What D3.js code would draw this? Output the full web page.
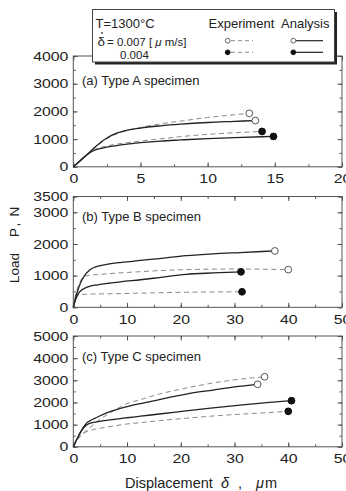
<!DOCTYPE html>
<html>
<head>
<meta charset="utf-8">
<script src="https://cdn.jsdelivr.net/npm/d3@7"></script>
<style>
body { margin: 0; background: #fff; }
svg text { font-family: "Liberation Sans", Arial, sans-serif; fill: #222; }
</style>
</head>
<body>
<svg id="chart" width="346" height="491"></svg>
<script>
// [displacement (um), load (N)]
// Type A specimen
var aExp007 = [[0,0],[0.5,200],[1,420],[1.5,640],[2,840],[2.5,1010],[3,1140],[4,1310],[5,1420],[6.5,1550],[8,1650],[10,1780],[12,1880],[13.1,1930]];
var aAna007 = [[0,0],[0.5,210],[1,430],[1.5,660],[2,870],[2.5,1040],[3,1170],[4,1320],[5,1400],[6.5,1480],[8,1540],[10,1600],[12,1640],[13.55,1670]];
var aExp004 = [[0,0],[0.5,220],[1,430],[1.5,590],[2,690],[3,800],[4,870],[5,930],[6.5,1010],[8,1090],[10,1170],[12,1230],[14.05,1275]];
var aAna004 = [[0,0],[0.5,220],[1,430],[1.5,580],[2,660],[2.5,710],[3,750],[4,820],[5,870],[6.5,930],[8,970],[10,1020],[12,1055],[14.9,1095]];
// Type B specimen
var bExp007 = [[0,0],[0.5,450],[1,700],[1.5,880],[2,980],[3,1010],[5,1040],[8,1080],[12,1120],[16,1160],[21,1190],[30,1210],[40,1190]];
var bAna007 = [[0,0],[0.5,350],[1,620],[1.5,830],[2,980],[3,1170],[4,1270],[6,1350],[9,1420],[12.5,1480],[16,1540],[21,1630],[26,1690],[31,1730],[37.5,1780]];
var bExp004 = [[0,0],[0.4,220],[0.8,360],[1.2,400],[2,410],[4,420],[8,430],[12,445],[16,460],[21,475],[26,485],[31.4,490]];
var bAna004 = [[0,0],[0.5,280],[1,450],[1.5,540],[2,590],[3,660],[4.5,710],[6.5,760],[9,810],[12.5,870],[16,940],[21,1040],[26,1085],[31.2,1120]];
// Type C specimen
var cExp007 = [[0,0],[0.5,230],[1,430],[1.5,560],[2,650],[3,850],[4,1050],[5,1250],[6.2,1430],[8,1700],[10,1950],[12.5,2130],[16,2380],[21,2650],[26,2880],[31,3050],[35.6,3160]];
var cAna007 = [[0,0],[0.5,260],[1,500],[1.5,720],[2,920],[2.5,1080],[3,1160],[4,1280],[5,1400],[6.2,1530],[8,1680],[10,1810],[12.5,1950],[16,2130],[21,2380],[26,2560],[30,2700],[34.3,2820]];
var cExp004 = [[0,0],[0.5,200],[1,380],[1.5,520],[2,620],[2.5,690],[3,730],[4,790],[6.2,890],[8,960],[10,1030],[12.5,1090],[16,1180],[21,1290],[26,1390],[31,1470],[36,1540],[40,1600]];
var cAna004 = [[0,0],[0.5,260],[1,500],[1.5,720],[2,880],[2.5,990],[3,1050],[4,1110],[5,1150],[6.2,1190],[8,1250],[10,1310],[12.5,1380],[16,1480],[21,1620],[26,1760],[31,1880],[36,1990],[40.6,2080]];

var xTicksA = [0, 5, 10, 15, 20];
var xTicksBC = [0, 10, 20, 30, 40, 50];
var yTicksA = [0, 1000, 2000, 3000, 4000];
var yTicksB = [0, 1000, 2000, 3000, 3500];
var yTicksC = [0, 1000, 2000, 3000, 4000, 5000];
var panelNames = ["(a) Type A specimen", "(b) Type B specimen", "(c) Type C specimen"];
var rateLabels = ["0.007", "0.004"];

(function () {
    "use strict";

    var svg = d3.select("#chart");
    var left = 73.3, right = 342, ph = 110.8;
    var sx = 1.22; // tick digits are wider than plain Arial in the picture

    var panels = [
        {name: panelNames[0], top: 56, labelY: 84.5, xMax: 20, yMax: 4000, xTicks: xTicksA, yTicks: yTicksA, xMinor: 2.5,
         curves: [[aExp007, true, false], [aAna007, false, false], [aExp004, true, true], [aAna004, false, true]]},
        {name: panelNames[1], top: 196.5, labelY: 220.5, xMax: 50, yMax: 3500, xTicks: xTicksBC, yTicks: yTicksB, xMinor: 5,
         curves: [[bExp007, true, false], [bAna007, false, false], [bExp004, true, true], [bAna004, false, true]]},
        {name: panelNames[2], top: 336, labelY: 361, xMax: 50, yMax: 5000, xTicks: xTicksBC, yTicks: yTicksC, xMinor: 5,
         curves: [[cExp007, true, false], [cAna007, false, false], [cExp004, true, true], [cAna004, false, true]]}
    ];

    function styleAxis(g) {
        g.select(".domain").remove();
        g.selectAll("line").attr("stroke", "#444").attr("stroke-width", 0.9);
    }

    function drawPanel(p) {
        var bottom = p.top + ph;
        var x = d3.scaleLinear().domain([0, p.xMax]).range([left, right]);
        var y = d3.scaleLinear().domain([0, p.yMax]).range([bottom, p.top]);
        var g = svg.append("g");

        var xMinor = d3.range(0, p.xMax + 0.01, p.xMinor);
        var yMinor = d3.range(0, p.yMax + 0.01, 500);

        // minor ticks on all four sides
        g.append("g").attr("transform", "translate(0," + bottom + ")")
            .call(d3.axisBottom(x).tickValues(xMinor).tickSize(-2.5).tickFormat("")).call(styleAxis);
        g.append("g").attr("transform", "translate(0," + p.top + ")")
            .call(d3.axisTop(x).tickValues(xMinor).tickSize(-2.5).tickFormat("")).call(styleAxis);
        g.append("g").attr("transform", "translate(" + left + ",0)")
            .call(d3.axisLeft(y).tickValues(yMinor).tickSize(-2.5).tickFormat("")).call(styleAxis);
        g.append("g").attr("transform", "translate(" + right + ",0)")
            .call(d3.axisRight(y).tickValues(yMinor).tickSize(-2.5).tickFormat("")).call(styleAxis);

        // major ticks with labels
        var xa = g.append("g").attr("transform", "translate(0," + bottom + ")")
            .call(d3.axisBottom(x).tickValues(p.xTicks).tickSize(-4.5).tickPadding(7).tickFormat(d3.format("d")))
            .call(styleAxis);
        var ya = g.append("g").attr("transform", "translate(" + left + ",0)")
            .call(d3.axisLeft(y).tickValues(p.yTicks).tickSize(-4.5).tickPadding(4).tickFormat(d3.format("d")))
            .call(styleAxis);
        g.append("g").attr("transform", "translate(0," + p.top + ")")
            .call(d3.axisTop(x).tickValues(p.xTicks).tickSize(-4.5).tickFormat("")).call(styleAxis);
        g.append("g").attr("transform", "translate(" + right + ",0)")
            .call(d3.axisRight(y).tickValues(p.yTicks).tickSize(-4.5).tickFormat("")).call(styleAxis);

        [xa, ya].forEach(function (a) {
            a.selectAll("text")
                .attr("font-size", 13)
                .attr("fill", "#222")
                .attr("font-family", "'Liberation Sans', Arial, sans-serif")
                .attr("transform", "scale(" + sx + ",1)");
        });

        // frame
        g.append("rect")
            .attr("x", left).attr("y", p.top)
            .attr("width", right - left).attr("height", ph)
            .attr("fill", "none").attr("stroke", "#555").attr("stroke-width", 1);

        g.append("text")
            .attr("x", 82).attr("y", p.labelY)
            .attr("font-size", 13)
            .text(p.name);

        var line = d3.line()
            .x(function (d) { return x(d[0]); })
            .y(function (d) { return y(d[1]); })
            .curve(d3.curveMonotoneX);

        p.curves.forEach(function (c) {
            g.append("path")
                .datum(c[0])
                .attr("d", line)
                .attr("fill", "none")
                .attr("stroke", c[1] ? "#8a8a8a" : "#222")
                .attr("stroke-width", c[1] ? 1 : 1.3)
                .attr("stroke-dasharray", c[1] ? "5,3.5" : null);
        });

        p.curves.forEach(function (c) {
            var end = c[0][c[0].length - 1];
            g.append("circle")
                .attr("cx", x(end[0])).attr("cy", y(end[1]))
                .attr("r", 3.4)
                .attr("fill", c[2] ? "#111" : "#fff")
                .attr("stroke", c[2] ? "#111" : "#555")
                .attr("stroke-width", 1);
        });
    }

    panels.forEach(drawPanel);

    // y title
    [["Load", 283], ["P", 237], [",", 226.5], ["N", 216.5]].forEach(function (t) {
        svg.append("text")
            .attr("transform", "translate(19," + t[1] + ") rotate(-90)")
            .attr("font-size", 13.5)
            .text(t[0]);
    });

    // x title
    var xt = svg.append("text").attr("y", 487.5).attr("font-size", 14.5);
    xt.append("tspan").attr("x", 125).text("Displacement");
    xt.append("tspan").attr("x", 221).attr("font-style", "italic").text("δ");
    xt.append("tspan").attr("x", 238).text(",");
    xt.append("tspan").attr("x", 256).attr("font-style", "italic").text("μ");
    xt.append("tspan").attr("x", 265).text("m");

    // legend
    var lg = svg.append("g");
    lg.append("rect").attr("x", 95).attr("y", 12).attr("width", 242).attr("height", 52.5).attr("fill", "#222");
    lg.append("rect").attr("x", 92.5).attr("y", 9.5).attr("width", 242).attr("height", 52.5)
        .attr("fill", "#fff").attr("stroke", "#444").attr("stroke-width", 1);
    lg.append("text").attr("x", 95.5).attr("y", 27.5).attr("font-size", 13).text("T=1300°C");
    lg.append("text").attr("x", 208.5).attr("y", 27.5).attr("font-size", 13).text("Experiment");
    lg.append("text").attr("x", 281).attr("y", 27.5).attr("font-size", 13).text("Analysis");
    lg.append("text").attr("x", 97.5).attr("y", 46).attr("font-size", 13.5).text("δ");
    lg.append("circle").attr("cx", 102).attr("cy", 32.8).attr("r", 0.9).attr("fill", "#222");
    var rt = lg.append("text").attr("x", 107).attr("y", 46).attr("font-size", 11.5);
    rt.append("tspan").text("= " + rateLabels[0] + " [");
    rt.append("tspan").attr("font-style", "italic").text(" μ");
    rt.append("tspan").text(" m/s]");
    lg.append("text").attr("x", 120).attr("y", 59.3).attr("font-size", 11.5).text(rateLabels[1]);

    [[40.7, false], [52.3, true]].forEach(function (r) {
        lg.append("line").attr("x1", 231).attr("x2", 253).attr("y1", r[0]).attr("y2", r[0])
            .attr("stroke", "#8a8a8a").attr("stroke-width", 1).attr("stroke-dasharray", "4,3");
        lg.append("line").attr("x1", 296).attr("x2", 323).attr("y1", r[0]).attr("y2", r[0])
            .attr("stroke", "#222").attr("stroke-width", 1.2);
        [227.7, 293.3].forEach(function (cx) {
            lg.append("circle").attr("cx", cx).attr("cy", r[0]).attr("r", 2.4)
                .attr("fill", r[1] ? "#111" : "#fff")
                .attr("stroke", r[1] ? "#111" : "#555").attr("stroke-width", 0.9);
        });
    });
}());
</script>
</body>
</html>
